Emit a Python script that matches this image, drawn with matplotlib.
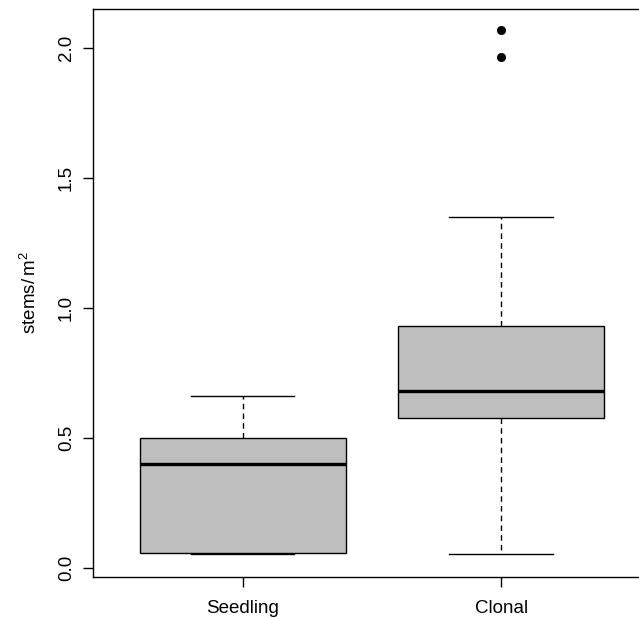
import matplotlib
matplotlib.use("Agg")
import matplotlib.pyplot as plt

plt.rcParams['font.family'] = ['Liberation Sans', 'DejaVu Sans']
plt.rcParams['mathtext.fontset'] = 'custom'
plt.rcParams['mathtext.rm'] = 'Liberation Sans'

groups = ["Seedling", "Clonal"]
whisker_low = [0.053, 0.053]
q1 = [0.055, 0.575]
median = [0.398, 0.680]
q3 = [0.500, 0.928]
whisker_high = [0.660, 1.349]
outliers = [[], [2.069, 1.965]]
y_ticks = [0.0, 0.5, 1.0, 1.5, 2.0]

stats = []
for i, name in enumerate(groups):
    stats.append(dict(label=name, whislo=whisker_low[i], q1=q1[i], med=median[i],
                      q3=q3[i], whishi=whisker_high[i], fliers=outliers[i]))

fig = plt.figure(figsize=(6.39, 6.18), dpi=100)
ax = fig.add_axes([93 / 639, (618 - 576.5) / 618, (651 - 93) / 639, (576.5 - 9) / 618])

ax.bxp(stats, positions=[1, 2], widths=0.8, patch_artist=True,
       boxprops=dict(facecolor="#BEBEBE", edgecolor="black", linewidth=1.0),
       medianprops=dict(color="black", linewidth=2.4, solid_capstyle="butt"),
       whiskerprops=dict(color="black", linewidth=1.0, linestyle=(0, (4, 3))),
       capprops=dict(color="black", linewidth=1.0),
       capwidths=0.4,
       flierprops=dict(marker="o", markerfacecolor="black", markeredgecolor="black",
                       markersize=5.5, linestyle="none"))

ax.set_xlim(0.42, 2.58)
ax.set_ylim(-0.034, 2.149)
ax.set_yticks(y_ticks)
ax.set_yticklabels([f"{v:.1f}" for v in y_ticks], rotation=90, va="center", fontsize=13.5)
ax.set_xticks([1, 2])
ax.set_xticklabels(groups, fontsize=13.5)
ax.tick_params(axis="both", direction="out", length=7, width=1, color="black")
ax.tick_params(axis="y", pad=6)
ax.tick_params(axis="x", pad=10)
for s in ["left", "top", "bottom"]:
    ax.spines[s].set_linewidth(1.0)
ax.spines["right"].set_visible(False)

ax.set_ylabel(r"stems/$\,$m$^{2}$", fontsize=13.5, labelpad=13)

fig.savefig("out.png", dpi=100)
